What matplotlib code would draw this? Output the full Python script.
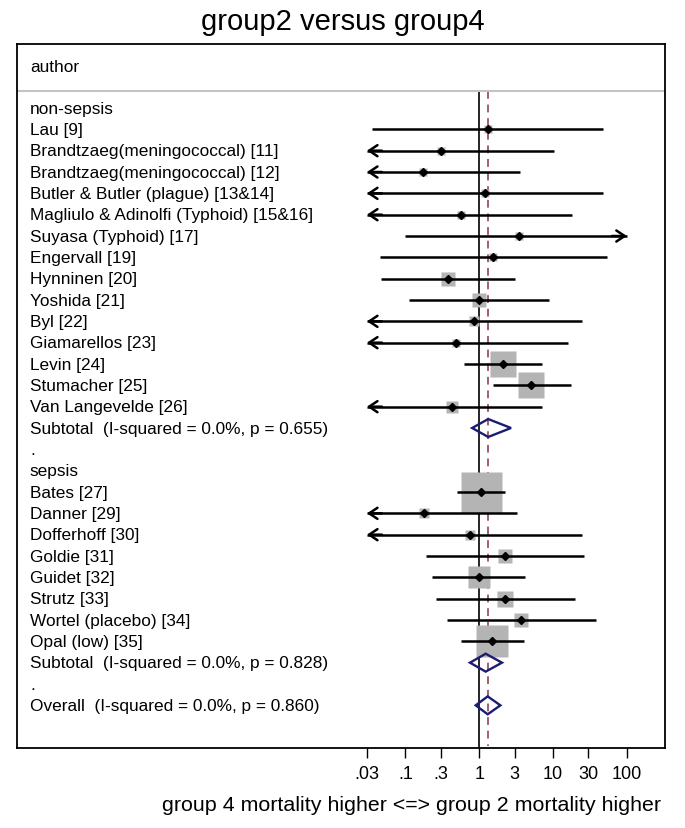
import numpy as np
import matplotlib.pyplot as plt
from matplotlib.patches import Polygon

plt.rcParams['font.family'] = ['Liberation Sans', 'DejaVu Sans']

# Datos: estudios no-sepsis
labels_ns = ['Lau [9]', 'Brandtzaeg(meningococcal) [11]', 'Brandtzaeg(meningococcal) [12]',
             'Butler & Butler (plague) [13&14]', 'Magliulo & Adinolfi (Typhoid) [15&16]',
             'Suyasa (Typhoid) [17]', 'Engervall [19]', 'Hynninen [20]', 'Yoshida [21]',
             'Byl [22]', 'Giamarellos [23]', 'Levin [24]', 'Stumacher [25]', 'Van Langevelde [26]']
or_ns = [1.30, 0.305, 0.174, 1.21, 0.57, 3.45, 1.55, 0.373, 0.99, 0.855, 0.479, 2.10, 5.07, 0.423]
lo_ns = [0.0355, 0.01, 0.005, 0.01, 0.01, 0.098, 0.0456, 0.0466, 0.110, 0.01, 0.01, 0.621, 1.52, 0.02]
hi_ns = [47.0, 10.2, 3.53, 47.9, 18.2, 130.0, 53.8, 3.05, 8.89, 24.9, 15.8, 7.14, 17.3, 7.14]
wt_ns = [1.0, 1.0, 1.26, 1.0, 1.0, 1.0, 1.0, 3.5, 3.5, 1.56, 1.26, 9.76, 9.76, 2.25]

# Datos: estudios sepsis
labels_s = ['Bates [27]', 'Danner [29]', 'Dofferhoff [30]', 'Goldie [31]', 'Guidet [32]',
            'Strutz [33]', 'Wortel (placebo) [34]', 'Opal (low) [35]']
or_s = [1.05, 0.178, 0.741, 2.21, 0.98, 2.25, 3.67, 1.50]
lo_s = [0.503, 0.01, 0.01, 0.19, 0.231, 0.257, 0.361, 0.565]
hi_s = [2.21, 3.27, 24.9, 26.5, 4.16, 20.0, 37.8, 4.00]
wt_s = [26.2, 1.56, 1.56, 2.64, 7.56, 3.51, 3.06, 15.0]

# Subtotales y total (est, lo, hi)
sub_ns = (1.32, 0.80, 2.69)
sub_s = (1.22, 0.748, 2.03)
overall = (1.30, 0.894, 1.93)
sub_ns_txt = 'Subtotal  (I-squared = 0.0%, p = 0.655)'
sub_s_txt = 'Subtotal  (I-squared = 0.0%, p = 0.828)'
overall_txt = 'Overall  (I-squared = 0.0%, p = 0.860)'

ticks = [0.03, 0.1, 0.3, 1, 3, 10, 30, 100]
tick_labels = ['.03', '.1', '.3', '1', '3', '10', '30', '100']
xmin, xmax = 0.03, 100

fig = plt.figure(figsize=(6.85, 8.29), dpi=100)
ax = fig.add_axes([0.0255, 0.0965, 0.9453, 0.8492])
ax.set_xscale('log')
ax.set_xlim(10 ** -6.257, 10 ** 2.516)
ax.set_ylim(30, -3)

tr = ax.get_yaxis_transform()  # x en ejes, y en datos
txt_x = 0.0193
fs = 12.4

# lineas de referencia
ax.plot([1, 1], [-0.8, 30], color='black', lw=1.2, zorder=1)
ax.plot([overall[0], overall[0]], [-0.8, 29.9], color='#a0606a', lw=1.4,
        ls=(0, (4, 3)), zorder=1)
ax.plot([0, 1], [-0.8, -0.8], transform=tr, color='#c4c4c4', lw=1.5, zorder=2)

ax.text(txt_x, -1.93, 'author', transform=tr, fontsize=fs, va='center')


def draw_study(y, est, lo, hi, w):
    side = 41 * np.sqrt(w / 26.2) * 0.72
    ax.plot(est, y, marker='s', ms=side, color='#b4b4b4', mec='none', zorder=2)
    a, b = max(lo, xmin), min(hi, xmax)
    ax.plot([a, b], [y, y], color='black', lw=1.8, zorder=3, solid_capstyle='butt')
    style = '->,head_length=0.6,head_width=0.4'
    if lo < xmin:
        ax.annotate('', xy=(xmin, y), xytext=(xmin * 1.6, y),
                    arrowprops=dict(arrowstyle=style, lw=1.8, color='black',
                                    shrinkA=0, shrinkB=0), zorder=3)
    if hi > xmax:
        ax.annotate('', xy=(xmax, y), xytext=(xmax / 1.6, y),
                    arrowprops=dict(arrowstyle=style, lw=1.8, color='black',
                                    shrinkA=0, shrinkB=0), zorder=3)
    ax.plot(est, y, marker='D', ms=4.4, color='black', zorder=4)


def draw_diamond(y, est, lo, hi):
    h = 0.42
    d = Polygon([(lo, y), (est, y - h), (hi, y), (est, y + h)], closed=True,
                fill=False, edgecolor='#1c1c72', lw=1.7, zorder=4)
    ax.add_patch(d)


row = 0
ax.text(txt_x, row, 'non-sepsis', transform=tr, fontsize=fs, va='center')
for i in range(len(labels_ns)):
    row += 1
    ax.text(txt_x, row, labels_ns[i], transform=tr, fontsize=fs, va='center')
    draw_study(row, or_ns[i], lo_ns[i], hi_ns[i], wt_ns[i])
row += 1
ax.text(txt_x, row, sub_ns_txt, transform=tr, fontsize=fs, va='center')
draw_diamond(row, *sub_ns)
row += 1
ax.text(txt_x, row, '.', transform=tr, fontsize=fs, va='center')
row += 1
ax.text(txt_x, row, 'sepsis', transform=tr, fontsize=fs, va='center')
for i in range(len(labels_s)):
    row += 1
    ax.text(txt_x, row, labels_s[i], transform=tr, fontsize=fs, va='center')
    draw_study(row, or_s[i], lo_s[i], hi_s[i], wt_s[i])
row += 1
ax.text(txt_x, row, sub_s_txt, transform=tr, fontsize=fs, va='center')
draw_diamond(row, *sub_s)
row += 1
ax.text(txt_x, row, '.', transform=tr, fontsize=fs, va='center')
row += 1
ax.text(txt_x, row, overall_txt, transform=tr, fontsize=fs, va='center')
draw_diamond(row, *overall)

# ejes
ax.set_xticks(ticks)
ax.set_xticklabels(tick_labels, fontsize=13)
ax.xaxis.set_minor_locator(plt.NullLocator())
ax.set_yticks([])
ax.tick_params(axis='x', direction='out', length=7.2, width=1, pad=5)
for s in ax.spines.values():
    s.set_linewidth(1.3)

fig.text(411 / 685, 1 - 806 / 829, 'group 4 mortality higher <=> group 2 mortality higher',
         fontsize=15.4, ha='center', va='center')
fig.text(0.5, 1 - 22 / 829, 'group2 versus group4', fontsize=21, ha='center', va='center')

fig.savefig('out.png', dpi=100)
